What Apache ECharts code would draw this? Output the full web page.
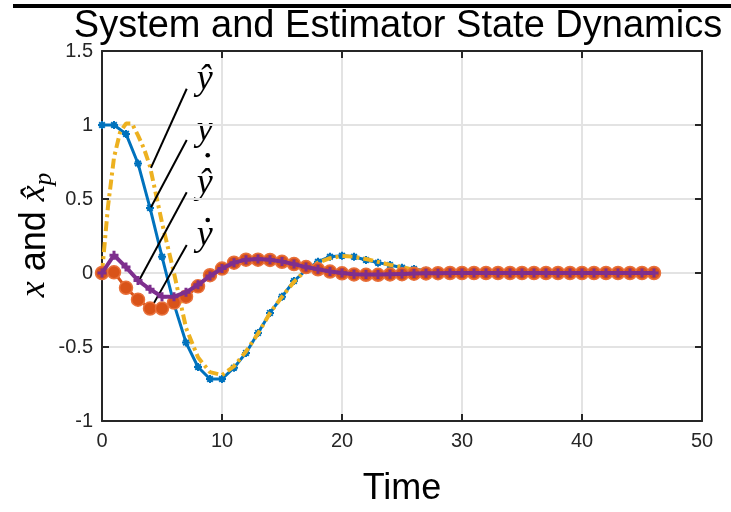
<!DOCTYPE html>
<html><head><meta charset="utf-8">
<script src="https://cdn.jsdelivr.net/npm/echarts@6/dist/echarts.min.js"></script>
<style>html,body{margin:0;padding:0;background:#fff}#c{width:731px;height:512px}</style>
</head><body><div id="c"></div>
<script>
// ---- data ----
const timeSteps = [0,1,2,3,4,5,6,7,8,9,10,11,12,13,14,15,16,17,18,19,20,21,22,23,24,25,26,27,28,29,30,31,32,33,34,35,36,37,38,39,40,41,42,43,44,45,46];
const ySystem = [1.0,1.0,0.94,0.74,0.44,0.11,-0.21,-0.47,-0.635,-0.716,-0.716,-0.64,-0.54,-0.405,-0.27,-0.16,-0.054,0.02,0.076,0.11,0.117,0.11,0.088,0.07,0.054,0.036,0.027,0.015,0.008,0.003,0.0,-0.002,-0.002,-0.002,-0.001,0,0,0,0,0,0,0,0,0,0,0,0];
const yDot = [0,0.005,-0.10,-0.18,-0.24,-0.24,-0.20,-0.16,-0.09,-0.015,0.03,0.07,0.09,0.09,0.088,0.076,0.06,0.04,0.025,0.01,-0.002,-0.01,-0.012,-0.012,-0.01,-0.008,-0.005,-0.003,-0.001,0,0,0,0,0,0,0,0,0,0,0,0,0,0,0,0,0,0];
const yDotHat = [0,0.12,0.04,-0.05,-0.11,-0.16,-0.16,-0.13,-0.08,-0.02,0.03,0.07,0.09,0.095,0.09,0.077,0.06,0.04,0.025,0.01,0.0,-0.008,-0.01,-0.01,-0.008,-0.006,-0.004,-0.002,-0.001,0,0,0,0,0,0,0,0,0,0,0,0,0,0,0,0,0,0];
const hatTime = [0,0.5,1,1.5,2,2.5,3,3.5,4,5,6,7,8,9,10,11,12,13,14,15,16,17,18,19,20,21,22,23,24,25,26,27,28,29,30,31,32,33,34,35,36,37,38,39,40,41,42,43,44,45,46];
const yHat = [0,0.45,0.78,0.95,1.01,1.01,0.93,0.84,0.72,0.34,0.0,-0.37,-0.57,-0.67,-0.69,-0.63,-0.53,-0.41,-0.27,-0.16,-0.06,0.02,0.07,0.10,0.115,0.11,0.095,0.075,0.055,0.04,0.02,0.01,0.003,0,0,0,0,0,0,0,0,0,0,0,0,0,0,0,0,0,0];
const xTicks = [0,10,20,30,40,50];
const yTicks = [-1,-0.5,0,0.5,1,1.5];
// annotation arrows in data units
const annoLabels = ['y\u0302','y','y\u0302','y'];
const annoDots = [false,false,true,true];
const annoStart = [[7.06,1.245],[7.06,0.899],[7.06,0.546],[7.06,0.189]];
const annoEnd = [[4.08,0.71],[4.08,0.444],[3.11,-0.047],[4.08,-0.239]];

// ---- chart ----
const chart = echarts.init(document.getElementById('c'), null, {renderer:'canvas'});
const pair = (xs, ys) => xs.map((x,i)=>[x, ys[i]]);
const axisCol = '#262626';
const tickFont = {fontFamily:'Liberation Sans', fontSize:20, color:axisCol};
const asterisk = 'path://M5,0L5,10M0,5L10,5M1.5,1.5L8.5,8.5M8.5,1.5L1.5,8.5';
const plus = 'path://M5,0L5,10M0,5L10,5';

const xAxisBase = {type:'value', min:xTicks[0], max:xTicks[xTicks.length-1], interval:10};
const yAxisBase = {type:'value', min:yTicks[0], max:yTicks[yTicks.length-1], interval:0.5};
const lineAxis = {show:true, onZero:false, lineStyle:{color:axisCol, width:2}};
const tickIn = {show:true, inside:true, length:7, lineStyle:{color:axisCol, width:2}};

const option = {
  backgroundColor:'#fff',
  animation:false,
  grid:{left:102, right:29, top:51, bottom:91, containLabel:false},
  xAxis:[
    Object.assign({}, xAxisBase, {position:'bottom', axisLine:lineAxis, axisTick:tickIn,
      axisLabel:Object.assign({margin:10}, tickFont),
      splitLine:{show:true, lineStyle:{color:'#e3e3e3', width:2}}}),
    Object.assign({}, xAxisBase, {position:'top', axisLine:lineAxis, axisTick:tickIn,
      axisLabel:{show:false}, splitLine:{show:false}})
  ],
  yAxis:[
    Object.assign({}, yAxisBase, {position:'left', axisLine:lineAxis, axisTick:tickIn,
      axisLabel:Object.assign({margin:9}, tickFont),
      splitLine:{show:true, lineStyle:{color:'#e3e3e3', width:2}}}),
    Object.assign({}, yAxisBase, {position:'right', axisLine:lineAxis, axisTick:tickIn,
      axisLabel:{show:false}, splitLine:{show:false}})
  ],
  series:[
    {name:'y', type:'line', data:pair(timeSteps, ySystem), z:3,
     lineStyle:{color:'#0072BD', width:3}, symbol:asterisk, symbolSize:8, showAllSymbol:true,
     itemStyle:{color:'#0072BD', borderColor:'#0072BD', borderWidth:2}},
    {name:'yhat', type:'line', data:pair(hatTime, yHat), z:4, showSymbol:false, symbol:'none',
     lineStyle:{color:'#EDB120', width:4, type:[10,4,3,4]}},
    {name:'ydot', type:'line', data:pair(timeSteps, yDot), z:5,
     lineStyle:{color:'#D95319', width:3}, symbol:'circle', symbolSize:13, showAllSymbol:true,
     itemStyle:{color:'#D95319', borderColor:'#E8703A', borderWidth:1.5}},
    {name:'ydothat', type:'line', data:pair(timeSteps, yDotHat), z:6,
     lineStyle:{color:'#7E2F8E', width:4}, symbol:plus, symbolSize:9, showAllSymbol:true,
     itemStyle:{color:'#7E2F8E', borderColor:'#7E2F8E', borderWidth:3}},
    {name:'anno', type:'line', data:[], z:10,
     markLine:{silent:true, symbol:['none','none'], label:{show:false},
       lineStyle:{color:'#000', width:2, type:'solid'},
       data: annoStart.map((s,i)=>[{coord:s},{coord:annoEnd[i]}])}}
  ],
  graphic:[]
};
chart.setOption(option);

// texts
const g = [];
g.push({type:'rect', shape:{x:13, y:4, width:718, height:4}, style:{fill:'#000'}});
g.push({type:'text', x:398, y:27, style:{text:'System and Estimator State Dynamics', font:'38px "Liberation Sans"', fill:'#000', textAlign:'center', textVerticalAlign:'middle'}});
g.push({type:'text', x:402, y:489, style:{text:'Time', font:'36px "Liberation Sans"', fill:'#000', textAlign:'center', textVerticalAlign:'middle'}});
annoStart.forEach((s,i)=>{
  const p = chart.convertToPixel({xAxisIndex:0, yAxisIndex:0}, s);
  const cx = p[0]+18, cy = p[1]-9;
  g.push({type:'text', x:cx, y:cy, style:{text:annoLabels[i], font:'italic 36px "Liberation Serif"', fill:'#000', textAlign:'center', textVerticalAlign:'middle'}});
  if (annoDots[i]) {
    const hasHat = annoLabels[i].length > 1;
    g.push({type:'circle', shape:{cx:cx+3, cy:cy-(hasHat?28:16), r:2.3}, style:{fill:'#000'}});
  }
});
// y label: x and x̂_p (rotated)
const cv = document.createElement('canvas').getContext('2d');
const parts = [
  {t:'x', f:'italic 36px "Liberation Serif"', dy:0},
  {t:' and ', f:'36px "Liberation Sans"', dy:0},
  {t:'x\u0302', f:'italic 36px "Liberation Serif"', dy:0},
  {t:'p', f:'italic 25px "Liberation Serif"', dy:9}
];
let W = 0; parts.forEach(pp=>{cv.font=pp.f; pp.w=cv.measureText(pp.t).width; W+=pp.w;});
let px = -W/2; const children=[];
parts.forEach(pp=>{children.push({type:'text', x:px, y:pp.dy, style:{text:pp.t, font:pp.f, fill:'#000', textAlign:'left', textVerticalAlign:'middle'}}); px+=pp.w;});
g.push({type:'group', x:35, y:235, rotation:Math.PI/2, children:children});
chart.setOption({graphic:g});
</script></body></html>
